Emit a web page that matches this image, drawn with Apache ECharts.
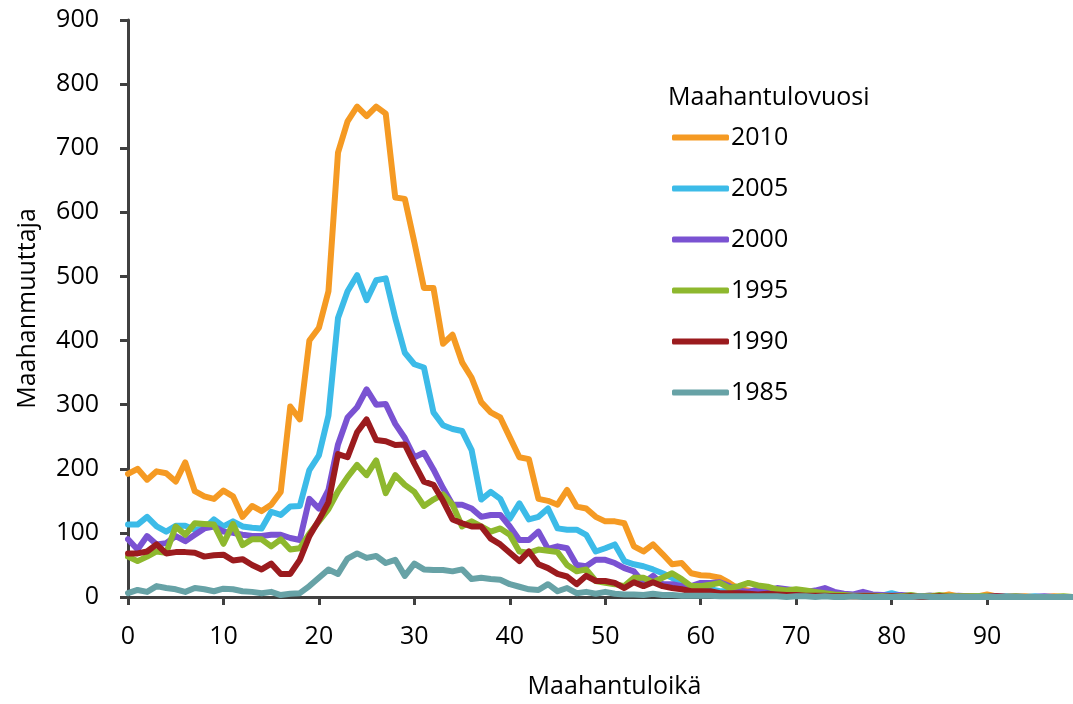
<!DOCTYPE html>
<html>
<head>
<meta charset="utf-8">
<script src="https://cdn.jsdelivr.net/npm/echarts/dist/echarts.min.js"></script>
<style>
  html, body { margin: 0; padding: 0; background: #ffffff; }
  #main { width: 1073px; height: 704px; }
</style>
</head>
<body>
<div id="main"></div>
<script>
// ikä 0..99
var ages = [
  0,1,2,3,4,5,6,7,8,9,10,11,12,13,14,15,16,17,18,19,
  20,21,22,23,24,25,26,27,28,29,30,31,32,33,34,35,36,37,38,39,
  40,41,42,43,44,45,46,47,48,49,50,51,52,53,54,55,56,57,58,59,
  60,61,62,63,64,65,66,67,68,69,70,71,72,73,74,75,76,77,78,79,
  80,81,82,83,84,85,86,87,88,89,90,91,92,93,94,95,96,97,98,99
];

var v2010 = [
  192,200,183,196,193,180,210,165,157,153,
  166,157,125,142,134,144,164,297,277,400,
  420,477,693,742,765,750,765,754,623,621,
  553,482,482,395,409,366,342,304,288,280,
  249,218,215,153,150,144,167,141,138,125,
  118,118,115,79,71,82,67,51,53,37,
  34,33,30,22,12,10,8,6,5,4,
  3,3,2,2,2,2,1,1,1,1,
  1,1,1,1,2,1,4,1,1,1,
  4,1,1,0,1,0,0,1,0,0
];
var v2005 = [
  113,113,125,110,102,111,111,105,107,121,
  110,118,110,108,107,133,128,141,142,198,
  221,283,435,477,502,463,494,497,435,381,
  363,358,288,268,262,259,229,152,164,153,
  122,146,121,125,138,107,105,105,97,71,
  76,82,56,51,48,43,37,30,22,14,
  12,12,9,9,8,6,10,8,12,10,
  8,6,5,8,6,4,3,5,3,2,
  6,2,1,1,2,1,1,1,0,1,
  1,0,1,0,0,1,0,0,0,0
];
var v2000 = [
  90,74,95,82,84,95,87,97,107,110,
  102,100,97,95,95,97,97,92,89,153,
  138,167,238,280,296,324,300,301,270,248,
  218,225,199,170,144,144,138,125,128,128,
  110,89,89,102,75,79,76,50,48,58,
  58,53,45,40,22,33,20,20,17,17,
  22,22,23,17,10,8,12,10,14,12,
  10,8,10,14,8,5,4,8,4,3,
  2,3,2,1,2,1,1,2,1,0,
  1,1,0,1,0,0,1,0,0,0
];
var v1995 = [
  63,56,63,71,69,110,97,115,114,113,
  83,114,81,90,90,79,90,74,76,99,
  118,137,165,187,206,190,213,162,190,175,
  164,142,152,160,144,110,118,110,102,107,
  97,71,69,74,72,70,50,40,43,25,
  22,20,17,30,30,23,30,37,28,17,
  17,19,22,14,17,22,18,16,12,10,
  12,10,8,6,4,3,2,2,2,1,
  1,1,3,1,1,3,1,1,1,1,
  1,0,0,1,0,0,0,0,1,0
];
var v1990 = [
  68,68,71,82,68,70,70,69,63,65,
  66,57,59,50,43,52,36,36,58,95,
  120,148,223,218,257,277,245,243,237,238,
  208,180,175,150,121,115,110,110,91,82,
  69,56,71,51,45,36,32,20,33,25,
  25,22,14,23,17,23,17,14,12,9,
  9,9,6,6,6,5,4,5,4,3,
  3,2,2,2,1,1,1,1,1,0,
  1,0,1,0,0,1,0,0,0,0,
  0,1,0,0,0,0,0,0,0,0
];
var v1985 = [
  6,11,8,17,14,12,8,14,12,9,
  13,12,9,8,6,8,3,5,6,17,
  30,43,36,60,68,61,64,53,58,33,
  52,43,42,42,40,43,28,30,28,27,
  20,16,12,11,20,9,14,6,8,5,
  8,5,4,4,3,5,3,3,2,2,
  2,2,1,1,1,1,1,1,1,0,
  1,1,0,1,0,0,1,0,0,0,
  0,0,0,1,0,0,0,0,0,0,
  0,0,0,0,0,0,0,0,0,0
];

var years = ['2010', '2005', '2000', '1995', '1990', '1985'];
var values = [v2010, v2005, v2000, v1995, v1990, v1985];
var colors = ['#F59A23', '#3CBBE8', '#7A52D2', '#8EB82E', '#9B1B1E', '#67A2A6'];

var FONT = '"Open Sans", sans-serif';
var FS = 25;
var myChart = echarts.init(document.getElementById('main'));

var series = [];
for (var i = 0; i < years.length; i++) {
  series.push({
    name: years[i],
    type: 'line',
    data: values[i],
    showSymbol: false,
    symbol: 'none',
    lineStyle: { width: 6, color: colors[i], join: 'round', cap: 'round' },
    itemStyle: { color: colors[i] }
  });
}

var option = {
  animation: false,
  backgroundColor: '#ffffff',
  title: {
    text: 'Maahantulovuosi',
    left: 668,
    top: 85,
    padding: 0,
    textStyle: { fontFamily: FONT, fontSize: FS, fontWeight: 'normal', color: '#000' }
  },
  legend: {
    orient: 'vertical',
    left: 672,
    top: 125,
    padding: 0,
    icon: 'roundRect',
    itemWidth: 57,
    itemHeight: 6,
    itemGap: 26,
    textStyle: { fontFamily: FONT, fontSize: FS, color: '#000', lineHeight: 25, padding: [0, 0, 0, -3] },
    data: years
  },
  grid: { left: 128, right: 0, top: 20, bottom: 103 },
  xAxis: {
    type: 'category',
    data: ages,
    boundaryGap: false,
    name: 'Maahantuloikä',
    nameLocation: 'middle',
    nameGap: 77,
    nameTextStyle: { fontFamily: FONT, fontSize: FS, color: '#000', padding: [0, 0, 0, 28] },
    axisLine: { lineStyle: { color: '#404040', width: 3 } },
    axisTick: { interval: 9, length: 8, lineStyle: { color: '#404040', width: 3 } },
    axisLabel: { interval: 9, margin: 27, fontFamily: FONT, fontSize: FS, color: '#000' },
    splitLine: { show: false }
  },
  yAxis: {
    type: 'value',
    min: 0,
    max: 900,
    interval: 100,
    name: 'Maahanmuuttaja',
    nameLocation: 'middle',
    nameGap: 88,
    nameTextStyle: { fontFamily: FONT, fontSize: FS, color: '#000' },
    axisLine: { show: true, lineStyle: { color: '#404040', width: 3 } },
    axisTick: { show: true, length: 8, lineStyle: { color: '#404040', width: 3 } },
    axisLabel: { margin: 29, fontFamily: FONT, fontSize: FS, color: '#000' },
    splitLine: { show: false }
  },
  series: series
};

myChart.setOption(option);
</script>
</body>
</html>
